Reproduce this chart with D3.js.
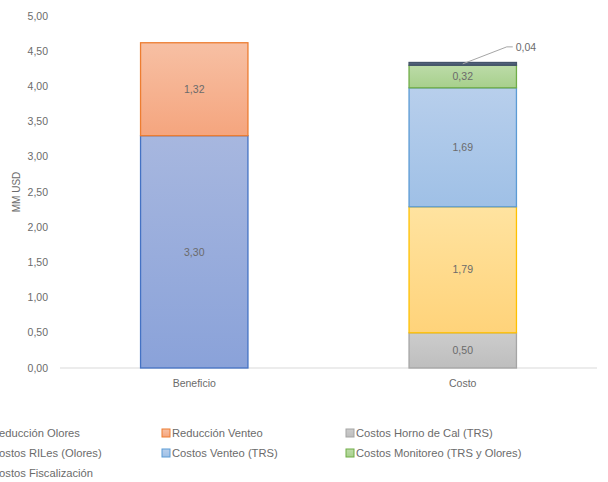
<!DOCTYPE html>
<html>
<head>
<meta charset="utf-8">
<script src="https://cdn.jsdelivr.net/npm/d3@7"></script>
<style>
body { margin: 0; background: #fff; }
svg { font-family: "Liberation Sans", "DejaVu Sans", sans-serif; }
</style>
</head>
<body>
<svg id="chart" width="608" height="482"></svg>
<script>
// data
var categories = ["Beneficio", "Costo"];
var seriesNames = ["Reducción Olores", "Reducción Venteo", "Costos Horno de Cal (TRS)",
  "Costos RILes (Olores)", "Costos Venteo (TRS)", "Costos Monitoreo (TRS y Olores)", "Costos Fiscalización"];
var beneficioValues = [3.30, 1.32, 0, 0, 0, 0, 0];
var costoValues = [0, 0, 0.50, 1.79, 1.69, 0.32, 0.04];
var yTicks = [0, 0.5, 1, 1.5, 2, 2.5, 3, 3.5, 4, 4.5, 5];

// colours: top, bottom, border
var colors = [
  ["#a7b7df", "#8aa2d9", "#4472c4"],
  ["#f7c0a4", "#f5a57e", "#ed7d31"],
  ["#cccccc", "#bebebe", "#a5a5a5"],
  ["#ffe3a0", "#ffd37a", "#ffc000"],
  ["#b8cfec", "#9fc0e6", "#5b9bd5"],
  ["#bcdba8", "#a7d08c", "#70ad47"],
  ["#5b6b86", "#44546a", "#44546a"]
];

var svg = d3.select("#chart");
var defs = svg.append("defs");
colors.forEach(function(c, i) {
  var g = defs.append("linearGradient").attr("id", "grad" + i)
    .attr("x1", 0).attr("y1", 0).attr("x2", 0).attr("y2", 1);
  g.append("stop").attr("offset", "0%").attr("stop-color", c[0]);
  g.append("stop").attr("offset", "100%").attr("stop-color", c[1]);
});

var x = d3.scaleBand().domain(categories).range([60, 597]).paddingInner(0.6).paddingOuter(0.3);
var y = d3.scaleLinear().domain([0, 5]).range([368, 16]);

var fmt = function(v) { return v.toFixed(2).replace(".", ","); };
var textColor = "#6b6b6b";

// y axis labels
svg.append("g").selectAll("text").data(yTicks).enter().append("text")
  .attr("x", 48).attr("y", function(d) { return y(d); }).attr("dy", "0.35em")
  .attr("text-anchor", "end").attr("font-size", 10.5).attr("fill", textColor)
  .text(fmt);

svg.append("text")
  .attr("transform", "translate(16,192) rotate(-90)")
  .attr("dy", "0.35em")
  .attr("text-anchor", "middle").attr("font-size", 10).attr("fill", textColor)
  .text("MM USD");

// baseline
svg.append("line").attr("x1", 60).attr("x2", 597).attr("y1", y(0)).attr("y2", y(0))
  .attr("stroke", "#d9d9d9").attr("stroke-width", 1);

// x labels
svg.append("g").selectAll("text").data(categories).enter().append("text")
  .attr("x", function(d) { return x(d) + x.bandwidth() / 2; }).attr("y", 383)
  .attr("dy", "0.35em")
  .attr("text-anchor", "middle").attr("font-size", 10.5).attr("fill", textColor)
  .text(function(d) { return d; });

// stacked bars
var rows = [beneficioValues, costoValues];
rows.forEach(function(vals, ci) {
  var cat = categories[ci];
  var base = 0;
  vals.forEach(function(v, si) {
    if (v <= 0) return;
    var top = base + v;
    svg.append("rect")
      .attr("x", x(cat)).attr("width", x.bandwidth())
      .attr("y", y(top)).attr("height", y(base) - y(top))
      .attr("fill", "url(#grad" + si + ")")
      .attr("stroke", colors[si][2]).attr("stroke-width", 1.3);
    var cx = x(cat) + x.bandwidth() / 2;
    if (v >= 0.1) {
      svg.append("text").attr("x", cx).attr("y", y(base + v / 2)).attr("dy", "0.35em")
        .attr("text-anchor", "middle").attr("font-size", 10.5).attr("fill", textColor)
        .text(fmt(v));
    } else {
      var ly = y(base + v / 2);
      svg.append("polyline")
        .attr("points", [[cx, ly], [cx + 44, ly - 17], [cx + 50, ly - 17]].join(" "))
        .attr("fill", "none").attr("stroke", "#a6a6a6").attr("stroke-width", 1);
      svg.append("text").attr("x", cx + 53).attr("y", ly - 17).attr("dy", "0.35em")
        .attr("font-size", 10.5).attr("fill", textColor).text(fmt(v));
    }
    base = top;
  });
});

// legend
var legX = [-19, 162, 346];
var legY = [433, 453, 473];
var legend = svg.append("g").selectAll("g").data(seriesNames).enter().append("g")
  .attr("transform", function(d, i) { return "translate(" + legX[i % 3] + "," + legY[Math.floor(i / 3)] + ")"; });
legend.append("rect").attr("x", 0).attr("y", -4).attr("width", 8).attr("height", 8)
  .attr("fill", function(d, i) { return "url(#grad" + i + ")"; })
  .attr("stroke", function(d, i) { return colors[i][2]; }).attr("stroke-width", 1);
legend.append("text").attr("x", 10).attr("y", 0).attr("dy", "0.35em")
  .attr("font-size", 11.2).attr("fill", textColor)
  .text(function(d) { return d; });
</script>
</body>
</html>
